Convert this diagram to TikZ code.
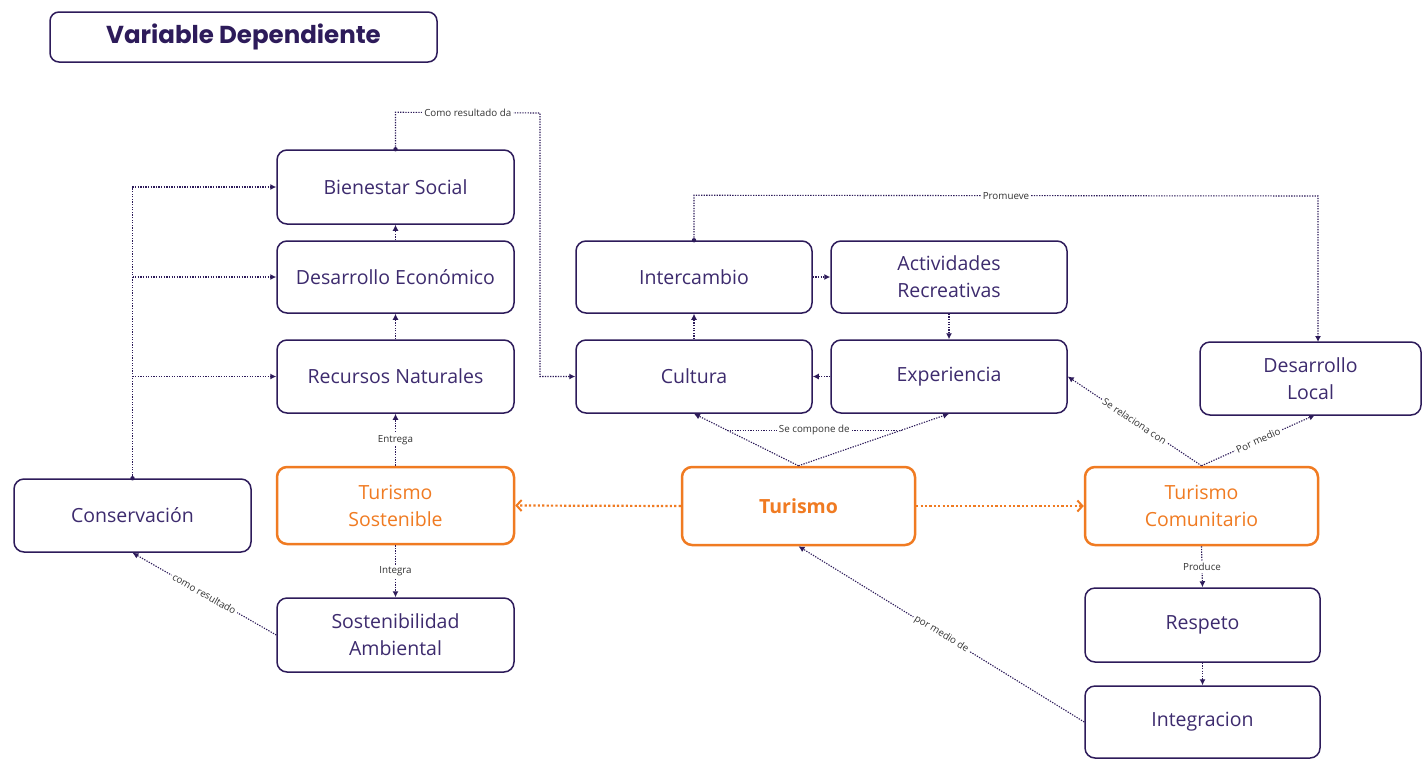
\documentclass[tikz,border=0pt]{standalone}
\usepackage{fontspec}
\usetikzlibrary{arrows.meta,calc}
\newfontfamily\titlefont{Poppins}
\newfontfamily\bodyfont{Open Sans}
\definecolor{pdark}{HTML}{2D1B5A}
\definecolor{ptext}{HTML}{3D2B6E}
\definecolor{orng}{HTML}{F07B22}
\definecolor{labgray}{HTML}{333333}
\tikzset{
  box/.style={draw=pdark, line width=1.5pt, rounded corners=10pt, fill=white, text=ptext,
    font=\bodyfont\fontsize{19.5}{27}\selectfont, align=center, inner sep=2pt},
  obox/.style={box, draw=orng, line width=2.5pt, text=orng},
  conn/.style={draw=pdark, line width=1.1pt, dash pattern=on 1.3pt off 1.3pt,
    -{Latex[length=6pt,width=6pt]}},
  plain/.style={draw=pdark, line width=1.1pt, dash pattern=on 1.3pt off 1.3pt},
  oconn/.style={draw=orng, line width=2.2pt, dash pattern=on 2.2pt off 2.2pt,
    -{Straight Barb[length=5pt,width=11pt,line width=2pt]}},
  lab/.style={font=\bodyfont\fontsize{9.8}{11}\selectfont, text=labgray, fill=white, inner sep=2pt},
}
\begin{document}
\begin{tikzpicture}[x=1pt,y=-1pt]
\useasboundingbox[fill=white] (0,0) rectangle (1423,758);

% title
\node[draw=pdark, line width=1.5pt, rounded corners=9pt, minimum width=387pt, minimum height=50pt,
  text=pdark, font=\titlefont\bfseries\fontsize{24.5}{28}\selectfont] (title) at (243.5,37) {Variable Dependiente};

% left column
\node[box, minimum width=237pt, minimum height=74pt] (bien) at (395.5,187) {Bienestar Social};
\node[box, minimum width=237pt, minimum height=72pt] (desa) at (395.5,277) {Desarrollo Económico};
\node[box, minimum width=237pt, minimum height=73pt] (recu) at (395.5,376.5) {Recursos Naturales};
\node[obox, minimum width=237pt, minimum height=77pt] (tsos) at (395.5,505.5) {Turismo\\Sostenible};
\node[box, minimum width=237pt, minimum height=74pt] (sost) at (395.5,635) {Sostenibilidad\\Ambiental};
\node[box, minimum width=237pt, minimum height=73pt] (cons) at (132.5,515.5) {Conservación};

% middle
\node[box, minimum width=236pt, minimum height=72pt] (inter) at (694,277) {Intercambio};
\node[box, minimum width=236pt, minimum height=72pt] (acti) at (949,277) {Actividades\\Recreativas};
\node[box, minimum width=236pt, minimum height=73pt] (cult) at (694,376.5) {Cultura};
\node[box, minimum width=236pt, minimum height=73pt] (expe) at (949,376.5) {Experiencia};
\node[obox, minimum width=233pt, minimum height=78pt, font=\bodyfont\bfseries\fontsize{19.5}{27}\selectfont] (tur) at (798.5,506) {Turismo};

% right
\node[box, minimum width=221pt, minimum height=73pt] (dloc) at (1310.5,378.5) {Desarrollo\\Local};
\node[obox, minimum width=233pt, minimum height=78pt] (tcom) at (1201.5,506) {Turismo\\Comunitario};
\node[box, minimum width=235pt, minimum height=74pt] (resp) at (1202.5,625) {Respeto};
\node[box, minimum width=235pt, minimum height=72pt] (integ) at (1202.5,722) {Integracion};

% conservación tree
\fill[pdark] (cons.north) circle (2.2pt);
\draw[conn] (cons.north) -- (cons.north |- bien.west) -- (bien.west);
\draw[conn] (cons.north |- desa.west) -- (desa.west);
\draw[conn] (cons.north |- recu.west) -- (recu.west);

% left column arrows
\draw[conn] (recu.north) -- (desa.south);
\draw[conn] (desa.north) -- (bien.south);
\draw[conn] (tsos.north) -- node[lab]{Entrega} (recu.south);
\draw[conn] (tsos.south) -- node[lab]{Integra} (sost.north);
\draw[conn] (sost.west) -- node[lab, sloped]{como resultado} (cons.south);

% Bienestar -> Cultura
\fill[pdark] (bien.north) circle (2.2pt);
\coordinate (b1) at ($(bien.north)+(0,-37)$);
\coordinate (b2) at (540,113);
\draw[conn] (bien.north) -- (b1) -- node[lab]{Como resultado da} (b2) -- (b2 |- cult.west) -- (cult.west);

% middle cycle
\draw[conn] (cult.north) -- (inter.south);
\draw[conn] (inter.east) -- (acti.west);
\draw[conn] (acti.south) -- (expe.north);
\draw[conn] (expe.west) -- (cult.east);

% Promueve
\fill[pdark] (inter.north) circle (2.2pt);
\coordinate (p1) at ($(inter.north)+(0,-45)$);
\coordinate (p2) at (1318,196);
\coordinate (dl) at (1318,342);
\draw[conn] (inter.north) -- (p1) -- node[lab]{Promueve} (p2) -- (dl);

% Se compone de
\draw[conn] (tur.north) -- (cult.south);
\draw[conn] (tur.north) -- (expe.south);
\path (tur.north) -- (cult.south) coordinate[pos=0.685] (sc1);
\path (tur.north) -- (expe.south) coordinate[pos=0.685] (sc2);
\draw[plain] (sc1) -- node[lab]{Se compone de} (sc2);

% orange
\draw[oconn] (tur.west) -- (tsos.east);
\draw[oconn] (tur.east) -- (tcom.west);

% Turismo comunitario
\draw[conn] (tcom.north) -- node[lab, sloped]{Se relaciona con} (expe.east);
\coordinate (dlb) at (1315,415);
\draw[conn] (tcom.north) -- node[lab, sloped]{Por medio} (dlb);
\draw[conn] (tcom.south) -- node[lab]{Produce} (resp.north);
\draw[conn] (resp.south) -- (integ.north);
\draw[conn] (integ.west) -- node[lab, sloped]{por medio de} (tur.south);
\end{tikzpicture}
\end{document}
